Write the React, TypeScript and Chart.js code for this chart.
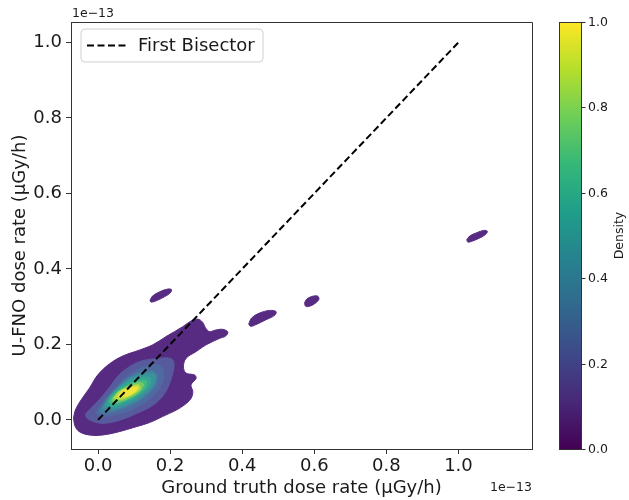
import React, { useEffect, useRef } from 'react';
import { Chart, registerables } from 'chart.js';

Chart.register(...registerables);

// ---------- axes ----------
const xLimits = [-0.075, 1.204];
const yLimits = [-0.077, 1.054];
const xTickValues = [0, 0.2, 0.4, 0.6, 0.8, 1.0];
const xTickLabels = ['0.0', '0.2', '0.4', '0.6', '0.8', '1.0'];
const yTickValues = [0, 0.2, 0.4, 0.6, 0.8, 1.0];
const yTickLabels = ['0.0', '0.2', '0.4', '0.6', '0.8', '1.0'];
const offsetText = '1e\u221213';
const xTitle = 'Ground truth dose rate (\u00B5Gy/h)';
const yTitle = 'U-FNO dose rate (\u00B5Gy/h)';

// ---------- colorbar ----------
const colorbarTickValues = [0, 0.2, 0.4, 0.6, 0.8, 1.0];
const colorbarTickLabels = ['0.0', '0.2', '0.4', '0.6', '0.8', '1.0'];
const colorbarTitle = 'Density';
const viridisStops = ['#440154', '#482878', '#3e4989', '#31688e', '#26828e', '#1f9e89', '#35b779', '#6ece58', '#b5de2b', '#fde725'];

// ---------- first bisector ----------
const bisectorLabel = 'First Bisector';
const bisectorX = [0, 1.0];
const bisectorY = [0, 1.0];

// ---------- KDE filled contour levels (outer -> inner), values in units of 1e-13 ----------
const levelColors = ['#582b82', '#575a9c', '#4f6aa0', '#457e9f', '#3a929b', '#33a592', '#45b880', '#74ca66', '#b3dc45', '#f0e43c'];

const level1Main: [number, number][] = [
  [-0.068, 0.005], [-0.063, 0.026], [-0.047, 0.053], [-0.024, 0.084], [-0.001, 0.119],
  [0.031, 0.148], [0.068, 0.169], [0.115, 0.185], [0.152, 0.199], [0.189, 0.221],
  [0.235, 0.247], [0.258, 0.262], [0.277, 0.267], [0.290, 0.259], [0.298, 0.244],
  [0.309, 0.234], [0.326, 0.238], [0.346, 0.240], [0.360, 0.233], [0.354, 0.222],
  [0.337, 0.216], [0.300, 0.199], [0.272, 0.181], [0.244, 0.163], [0.237, 0.141],
  [0.244, 0.124], [0.268, 0.119], [0.272, 0.110], [0.258, 0.093], [0.263, 0.075],
  [0.258, 0.057], [0.240, 0.040], [0.217, 0.026], [0.179, 0.009], [0.143, -0.007],
  [0.106, -0.018], [0.059, -0.031], [0.013, -0.040], [-0.024, -0.040], [-0.052, -0.031],
  [-0.064, -0.016],
];
const level1IslandA: [number, number][] = [
  [0.144, 0.315], [0.151, 0.328], [0.170, 0.339], [0.190, 0.346], [0.203, 0.346],
  [0.202, 0.338], [0.184, 0.326], [0.162, 0.316], [0.148, 0.312],
];
const level1IslandB: [number, number][] = [
  [0.418, 0.254], [0.426, 0.270], [0.448, 0.283], [0.476, 0.290], [0.494, 0.287],
  [0.490, 0.277], [0.465, 0.265], [0.437, 0.252], [0.423, 0.248],
];
const level1IslandC: [number, number][] = [
  [0.573, 0.310], [0.579, 0.320], [0.593, 0.327], [0.609, 0.328], [0.613, 0.320],
  [0.604, 0.310], [0.587, 0.301], [0.576, 0.301],
];
const level1IslandD: [number, number][] = [
  [1.023, 0.477], [1.031, 0.487], [1.051, 0.496], [1.070, 0.502], [1.080, 0.500],
  [1.076, 0.492], [1.059, 0.482], [1.037, 0.473], [1.026, 0.471],
];
const level2: [number, number][] = [
  [-0.035, 0.016], [-0.021, 0.030], [-0.002, 0.048], [0.026, 0.079], [0.054, 0.115],
  [0.081, 0.137], [0.114, 0.154], [0.156, 0.162], [0.202, 0.163], [0.211, 0.150],
  [0.206, 0.119], [0.193, 0.084], [0.174, 0.057], [0.146, 0.035], [0.109, 0.018],
  [0.063, 0.000], [0.017, -0.009], [-0.011, -0.005], [-0.031, 0.005],
];
const level3: [number, number][] = [
  [-0.007, 0.018], [0.007, 0.040], [0.035, 0.071], [0.063, 0.101], [0.091, 0.124],
  [0.128, 0.141], [0.165, 0.146], [0.181, 0.132], [0.179, 0.101], [0.160, 0.071],
  [0.128, 0.044], [0.091, 0.026], [0.044, 0.013], [0.007, 0.009],
];
const level4: [number, number][] = [
  [0.003, 0.022], [0.017, 0.044], [0.044, 0.075], [0.077, 0.106], [0.109, 0.124],
  [0.142, 0.130], [0.160, 0.124], [0.163, 0.101], [0.146, 0.075], [0.118, 0.053],
  [0.081, 0.035], [0.040, 0.022], [0.012, 0.018],
];
const level5: [number, number][] = [
  [0.015, 0.031], [0.026, 0.056], [0.057, 0.088], [0.094, 0.112], [0.134, 0.122],
  [0.158, 0.119], [0.155, 0.095], [0.127, 0.065], [0.088, 0.043], [0.045, 0.029],
];
const level6: [number, number][] = [
  [0.023, 0.039], [0.037, 0.065], [0.068, 0.091], [0.107, 0.110], [0.145, 0.111],
  [0.142, 0.089], [0.113, 0.064], [0.075, 0.045], [0.040, 0.035],
];
const level7: [number, number][] = [
  [0.030, 0.048], [0.047, 0.070], [0.079, 0.090], [0.112, 0.104], [0.134, 0.103],
  [0.130, 0.084], [0.102, 0.063], [0.065, 0.048], [0.040, 0.041],
];
const level8: [number, number][] = [
  [0.038, 0.051], [0.055, 0.074], [0.085, 0.090], [0.112, 0.099], [0.126, 0.095],
  [0.115, 0.075], [0.085, 0.057], [0.055, 0.047],
];
const level9: [number, number][] = [
  [0.043, 0.057], [0.059, 0.075], [0.085, 0.086], [0.113, 0.093], [0.116, 0.081],
  [0.094, 0.067], [0.063, 0.054],
];
const level10: [number, number][] = [
  [0.054, 0.062], [0.069, 0.078], [0.095, 0.086], [0.110, 0.087], [0.102, 0.074],
  [0.078, 0.062],
];

const contourLevels: [number, number][][][] = [
  [level1Main, level1IslandA, level1IslandB, level1IslandC, level1IslandD],
  [level2], [level3], [level4], [level5], [level6], [level7], [level8], [level9], [level10],
];

const FONT = "'DejaVu Sans', 'Liberation Sans', sans-serif";
const AXIS_COLOR = '#333333';
const TEXT_COLOR = '#1a1a1a';

const decorPlugin = {
  id: 'decor',
  afterDraw(chart: any) {
    const { ctx, chartArea: a } = chart;
    ctx.save();
    // top and right frame
    ctx.strokeStyle = AXIS_COLOR;
    ctx.lineWidth = 1;
    ctx.beginPath();
    ctx.moveTo(Math.round(a.left) + 0.5, Math.round(a.top) + 0.5);
    ctx.lineTo(Math.round(a.right) + 0.5, Math.round(a.top) + 0.5);
    ctx.lineTo(Math.round(a.right) + 0.5, Math.round(a.bottom) + 0.5);
    ctx.stroke();

    // y axis title
    ctx.save();
    ctx.fillStyle = TEXT_COLOR;
    ctx.font = `18px ${FONT}`;
    ctx.translate(20, (a.top + a.bottom) / 2 + 10);
    ctx.rotate(-Math.PI / 2);
    ctx.textAlign = 'center';
    ctx.textBaseline = 'middle';
    ctx.fillText(yTitle, 0, 0);
    ctx.restore();

    // offset texts
    ctx.fillStyle = TEXT_COLOR;
    ctx.font = `12.5px ${FONT}`;
    ctx.textBaseline = 'alphabetic';
    ctx.textAlign = 'left';
    ctx.fillText(offsetText, a.left + 1, a.top - 5);
    ctx.textAlign = 'right';
    ctx.fillText(offsetText, a.right, 491);

    // legend
    const bis = chart.data.datasets[chart.data.datasets.length - 1];
    const lx = a.left + 10, ly = a.top + 7, lw = 182, lh = 33, r = 4;
    ctx.fillStyle = 'rgba(255,255,255,0.8)';
    ctx.strokeStyle = '#d0d0d0';
    ctx.lineWidth = 1;
    ctx.beginPath();
    ctx.moveTo(lx + r, ly);
    ctx.arcTo(lx + lw, ly, lx + lw, ly + lh, r);
    ctx.arcTo(lx + lw, ly + lh, lx, ly + lh, r);
    ctx.arcTo(lx, ly + lh, lx, ly, r);
    ctx.arcTo(lx, ly, lx + lw, ly, r);
    ctx.closePath();
    ctx.fill();
    ctx.stroke();
    ctx.strokeStyle = '#000';
    ctx.lineWidth = 2;
    ctx.setLineDash([7, 3.5]);
    ctx.beginPath();
    ctx.moveTo(lx + 6, ly + lh / 2);
    ctx.lineTo(lx + 45, ly + lh / 2);
    ctx.stroke();
    ctx.setLineDash([]);
    ctx.fillStyle = TEXT_COLOR;
    ctx.font = `18px ${FONT}`;
    ctx.textAlign = 'left';
    ctx.textBaseline = 'middle';
    ctx.fillText(bis.label, lx + 57, ly + lh / 2 + 0.5);

    // colorbar
    const cb = chart.scales.cb;
    const cx0 = 559, cx1 = 581;
    const cTop = cb.getPixelForValue(1), cBot = cb.getPixelForValue(0);
    const grad = ctx.createLinearGradient(0, cBot, 0, cTop);
    viridisStops.forEach((c, i) => grad.addColorStop(i / (viridisStops.length - 1), c));
    ctx.fillStyle = grad;
    ctx.fillRect(cx0, cTop, cx1 - cx0, cBot - cTop);
    ctx.strokeStyle = AXIS_COLOR;
    ctx.lineWidth = 1;
    ctx.strokeRect(cx0 + 0.5, Math.round(cTop) + 0.5, cx1 - cx0, Math.round(cBot - cTop));
    ctx.font = `12.5px ${FONT}`;
    ctx.fillStyle = TEXT_COLOR;
    ctx.textAlign = 'left';
    ctx.textBaseline = 'middle';
    colorbarTickValues.forEach((v, i) => {
      const y = Math.round(cb.getPixelForValue(v)) + 0.5;
      ctx.beginPath();
      ctx.moveTo(cx1 + 0.5, y);
      ctx.lineTo(cx1 + 4.5, y);
      ctx.stroke();
      ctx.fillText(colorbarTickLabels[i], cx1 + 7, y);
    });
    ctx.save();
    ctx.translate(620, (cTop + cBot) / 2);
    ctx.rotate(-Math.PI / 2);
    ctx.textAlign = 'center';
    ctx.textBaseline = 'middle';
    ctx.fillText(colorbarTitle, 0, 0);
    ctx.restore();

    ctx.restore();
  },
};

export default function App() {
  const canvasRef = useRef<HTMLCanvasElement | null>(null);

  useEffect(() => {
    document.body.style.margin = '0';
    const canvas = canvasRef.current;
    if (!canvas) return;

    const datasets: any[] = [];
    contourLevels.forEach((polys, li) => {
      polys.forEach((poly) => {
        const pts = poly.concat([poly[0]]).map(([x, y]) => ({ x, y }));
        datasets.push({
          label: '',
          data: pts,
          fill: 'shape',
          backgroundColor: levelColors[li],
          borderColor: levelColors[li],
          borderWidth: 1,
          pointRadius: 0,
          tension: 0.35,
          order: 100 - li,
        });
      });
    });
    datasets.push({
      label: bisectorLabel,
      data: bisectorX.map((x, i) => ({ x, y: bisectorY[i] })),
      fill: false,
      borderColor: '#000000',
      borderWidth: 2,
      borderDash: [7, 3.5],
      pointRadius: 0,
      tension: 0,
      order: 0,
    });

    Chart.defaults.font.family = FONT;

    const chart = new Chart(canvas, {
      type: 'line',
      data: { datasets },
      options: {
        animation: false,
        responsive: false,
        maintainAspectRatio: false,
        layout: { padding: { top: 22, right: 97, left: 0, bottom: 0 } },
        plugins: { legend: { display: false }, tooltip: { enabled: false } },
        events: [],
        scales: {
          x: {
            type: 'linear',
            min: xLimits[0],
            max: xLimits[1],
            afterBuildTicks: (s: any) => { s.ticks = xTickValues.map((v) => ({ value: v })); },
            afterFit: (s: any) => { s.height = 51; },
            ticks: {
              callback: (_v: any, i: number) => xTickLabels[i],
              font: { size: 18, family: FONT },
              color: TEXT_COLOR,
              padding: 2,
              maxRotation: 0,
              autoSkip: false,
            },
            grid: { drawOnChartArea: false, drawTicks: true, tickLength: 5, tickColor: AXIS_COLOR },
            border: { display: true, color: AXIS_COLOR, width: 1 },
            title: { display: true, text: xTitle, font: { size: 18, family: FONT }, color: TEXT_COLOR, padding: { bottom: 1, top: 0 } },
          },
          y: {
            type: 'linear',
            min: yLimits[0],
            max: yLimits[1],
            afterBuildTicks: (s: any) => { s.ticks = yTickValues.map((v) => ({ value: v })); },
            afterFit: (s: any) => { s.width = 71; },
            ticks: {
              callback: (_v: any, i: number) => yTickLabels[i],
              font: { size: 18, family: FONT },
              color: TEXT_COLOR,
              padding: 4,
              autoSkip: false,
            },
            grid: { drawOnChartArea: false, drawTicks: true, tickLength: 5, tickColor: AXIS_COLOR },
            border: { display: true, color: AXIS_COLOR, width: 1 },
            title: { display: false, text: yTitle },
          },
          cb: {
            type: 'linear',
            position: 'right',
            display: false,
            min: 0,
            max: 1,
          },
        },
      },
      plugins: [decorPlugin],
    });

    return () => chart.destroy();
  }, []);

  return (
    <div style={{ width: 629, height: 500 }}>
      <canvas ref={canvasRef} width={629} height={500} style={{ display: 'block', width: 629, height: 500 }} />
    </div>
  );
}
